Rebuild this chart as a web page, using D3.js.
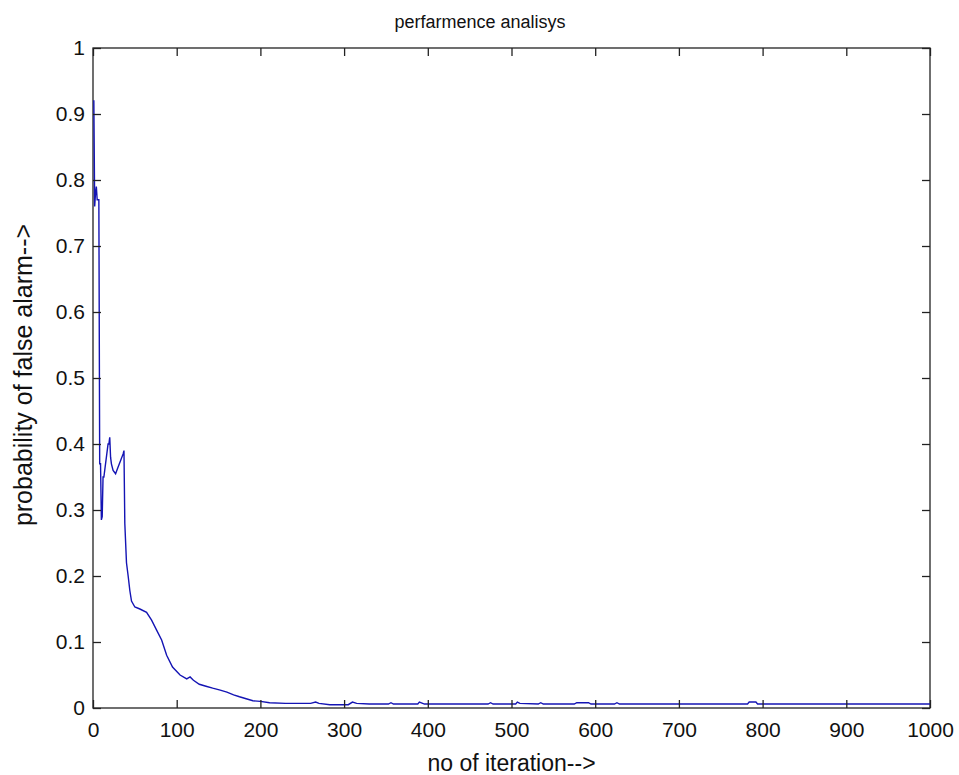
<!DOCTYPE html>
<html>
<head>
<meta charset="utf-8">
<script src="https://cdn.jsdelivr.net/npm/d3@7"></script>
<style>
  body { margin: 0; background: #fff; }
  text { font-family: "Liberation Sans", Arial, sans-serif; fill: #111; }
</style>
</head>
<body>
<svg id="body" width="959" height="775"></svg>
<script>
// iteration number and probability of false alarm
let iterations = [1, 2, 3, 4, 5, 6, 7, 8, 9, 10, 11, 12, 13, 14, 16, 18, 19, 20, 21, 22, 24, 27, 30, 33, 36, 37,
    38, 40, 42, 44, 46, 50, 56, 64, 70, 76, 82, 88, 95, 104, 112, 116, 120, 127, 135, 143, 152, 160, 168, 175,
    183, 191, 200, 211, 230, 260, 266, 270, 283, 305, 310, 315, 330, 353, 356, 359, 388, 390, 396, 472, 475,
    478, 505, 507, 510, 532, 535, 538, 575, 578, 592, 595, 623, 626, 629, 782, 784, 792, 794, 1000];
let falseAlarm = [0.921, 0.76, 0.78, 0.79, 0.77, 0.77, 0.77, 0.37, 0.37, 0.285, 0.29, 0.35, 0.35, 0.36, 0.38,
    0.40, 0.40, 0.41, 0.38, 0.37, 0.36, 0.355, 0.365, 0.375, 0.385, 0.39,
    0.28, 0.22, 0.2, 0.178, 0.162, 0.153, 0.15, 0.145, 0.133, 0.118, 0.103, 0.08, 0.062, 0.05, 0.044, 0.047,
    0.042, 0.036, 0.033, 0.03, 0.027, 0.024, 0.02, 0.017,
    0.014, 0.011, 0.01, 0.008, 0.007, 0.007, 0.009, 0.007, 0.005, 0.005, 0.009, 0.007, 0.006, 0.006, 0.008,
    0.006, 0.006, 0.009, 0.006, 0.006, 0.008,
    0.006, 0.006, 0.009, 0.007, 0.006, 0.008, 0.006, 0.006, 0.008, 0.008, 0.006, 0.006, 0.008, 0.006, 0.006,
    0.009, 0.009, 0.006, 0.006];

let xTicks = [0, 100, 200, 300, 400, 500, 600, 700, 800, 900, 1000];
let yTicks = [0, 0.1, 0.2, 0.3, 0.4, 0.5, 0.6, 0.7, 0.8, 0.9, 1];

let svg = d3.select("#body");

let plotLeft = 93, plotTop = 48, w = 837, h = 660;

let xScale = d3.scaleLinear()
    .domain([0, 1000])
    .range([plotLeft, plotLeft + w]);

let yScale = d3.scaleLinear()
    .domain([0, 1])
    .range([plotTop + h, plotTop]);

let points = iterations.map((d, i) => [d, falseAlarm[i]]);

// box
svg.append("rect")
    .attr("x", plotLeft)
    .attr("y", plotTop)
    .attr("width", w)
    .attr("height", h)
    .style("fill", "#fff")
    .style("stroke", "#222")
    .style("stroke-width", 1.3);

// line
svg.append("path")
    .datum(points)
    .attr("d", d3.line().x(d => xScale(d[0])).y(d => yScale(d[1])))
    .style("fill", "none")
    .style("stroke", "#1414b4")
    .style("stroke-width", 1.4);

let xAxis = d3.axisBottom(xScale)
    .tickValues(xTicks)
    .tickFormat(d3.format("d"))
    .tickSizeInner(-8)
    .tickSizeOuter(0)
    .tickPadding(14);

let yAxis = d3.axisLeft(yScale)
    .tickValues(yTicks)
    .tickFormat(d => d === 0 || d === 1 ? d : d3.format(".1f")(d))
    .tickSizeInner(-8)
    .tickSizeOuter(0)
    .tickPadding(8);

svg.append("g")
    .attr("transform", `translate(0, ${plotTop + h})`)
    .call(xAxis)
    .call(g => g.select(".domain").remove())
    .call(g => g.selectAll("text").style("font-size", "21px"));

svg.append("g")
    .attr("transform", `translate(${plotLeft}, 0)`)
    .call(yAxis)
    .call(g => g.select(".domain").remove())
    .call(g => g.selectAll("text").style("font-size", "21px"));

// top and right ticks, no labels
svg.append("g")
    .attr("transform", `translate(0, ${plotTop})`)
    .call(d3.axisTop(xScale).tickValues(xTicks).tickSizeInner(-8).tickSizeOuter(0).tickFormat(""))
    .call(g => g.select(".domain").remove());

svg.append("g")
    .attr("transform", `translate(${plotLeft + w}, 0)`)
    .call(d3.axisRight(yScale).tickValues(yTicks).tickSizeInner(-8).tickSizeOuter(0).tickFormat(""))
    .call(g => g.select(".domain").remove());

svg.selectAll(".tick line").style("stroke", "#222").style("stroke-width", 1.3);

svg.append("text")
    .attr("x", 480)
    .attr("y", 28)
    .attr("text-anchor", "middle")
    .style("font-size", "18px")
    .text("perfarmence analisys");

svg.append("text")
    .attr("x", xScale(500))
    .attr("y", 771)
    .attr("text-anchor", "middle")
    .style("font-size", "23px")
    .text("no of iteration-->");

svg.append("text")
    .attr("transform", `translate(32, 375) rotate(-90)`)
    .attr("text-anchor", "middle")
    .style("font-size", "25px")
    .text("probability of false alarm-->");
</script>
</body>
</html>
